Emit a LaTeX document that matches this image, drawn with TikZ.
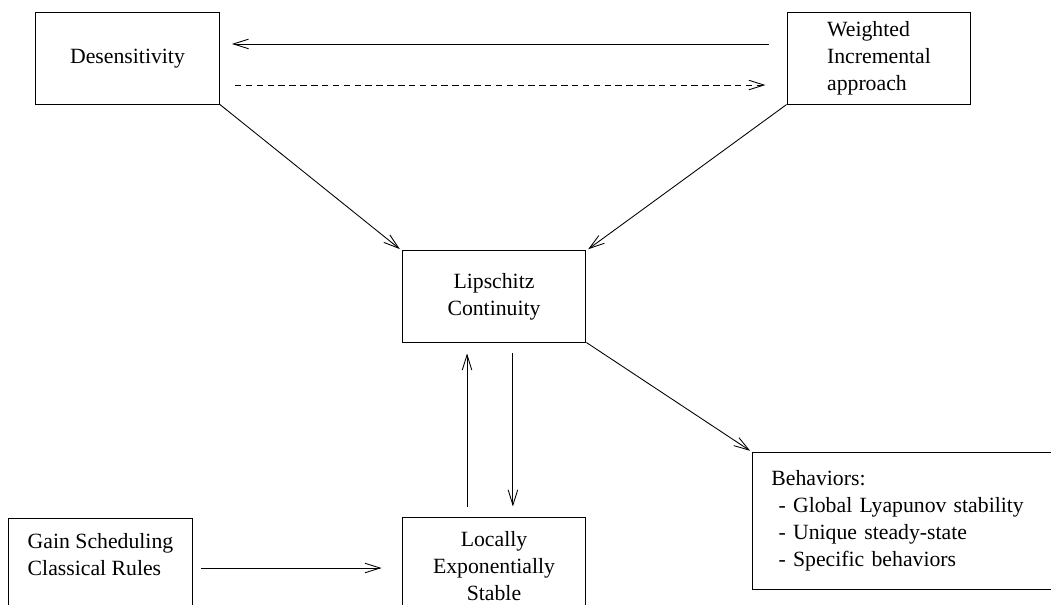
\documentclass[tikz,border=0pt]{standalone}
\usepackage{fontspec}
\setmainfont{Liberation Serif}
\usetikzlibrary{arrows.meta}
\tikzset{
  box/.style={draw,rectangle,line width=0.45pt,minimum width=84.6pt,minimum height=41.9pt,
    align=center,font=\fontsize{10}{12.4}\selectfont},
}

\begin{document}
\begin{tikzpicture}[x=0.46pt,y=-0.46pt,>={Straight Barb[length=7pt,width=4.4pt]}]
\clip (0,0) rectangle (1051,604);
\node[box] (des) at (127.5,58.5) {Desensitivity};
\node[box,align=left] (wia) at (879,58.5) {Weighted\\Incremental\\approach};
\node[box] (lip) at (494,296.5) {Lipschitz\\Continuity};
\node[box,minimum height=45.1pt] (loc) at (494,566) {Locally\\Exponentially\\Stable};
\node[box,align=left,minimum width=84.2pt,minimum height=46pt] (gain) at (100.5,568) {Gain Scheduling\\Classical Rules\\\mbox{}};
\node[box,anchor=north west,align=left,inner xsep=8.7pt,text width=125.2pt,minimum height=63pt] (beh) at (752,452)
  {Behaviors:\\\ - Global Lyapunov stability\\\ - Unique steady-state\\\ - Specific behaviors};
\draw[->,shorten <=8.3pt,shorten >=5.5pt] ([yshift=6.7pt]wia.west) -- ([yshift=6.7pt]des.east);
\draw[->,dash pattern=on 3pt off 2pt,shorten <=6.9pt,shorten >=9.7pt] ([yshift=-12.2pt]des.east) -- ([yshift=-12.2pt]wia.west);
\draw[->,shorten >=1pt] (des.south east) -- (lip.north west);
\draw[->,shorten >=1pt] (wia.south west) -- (lip.north east);
\draw[->,shorten >=1pt] (lip.south east) -- (beh.north west);
\draw[->,shorten <=4.6pt,shorten >=5pt] ([xshift=-12.4pt]loc.north) -- ([xshift=-12.4pt]lip.south);
\draw[->,shorten <=5pt,shorten >=4.6pt] ([xshift=8.7pt]lip.south) -- ([xshift=8.7pt]loc.north);
\draw[->,shorten <=4.1pt,shorten >=9.2pt] (gain.east) -- (gain.east -| loc.west);
\end{tikzpicture}
\end{document}
